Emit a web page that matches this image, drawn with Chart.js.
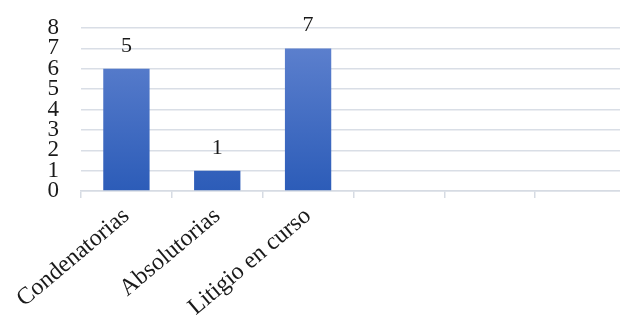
<!DOCTYPE html>
<html><head><meta charset="utf-8">
<script src="https://cdn.jsdelivr.net/npm/chart.js@4/dist/chart.umd.min.js"></script>
<style>html,body{margin:0;padding:0;background:#fff;overflow:hidden;width:620px;height:316px}#wrap{width:626px;height:316px;position:relative}</style>
</head><body><div id="wrap"><canvas id="c" width="626" height="316"></canvas></div>
<script>
const categories = ["Condenatorias", "Absolutorias", "Litigio en curso", "", "", ""];
const values = [6, 1, 7, null, null, null];
const valueLabels = ["5", "1", "7", "", "", ""];
const yTicks = [0, 1, 2, 3, 4, 5, 6, 7, 8];

const serif = "'Liberation Serif', 'Times New Roman', serif";

const labelPlugin = {
  id: 'valueLabels',
  afterDatasetsDraw(chart) {
    const ctx = chart.ctx;
    const meta = chart.getDatasetMeta(0);
    ctx.save();
    ctx.font = "22px " + serif;
    ctx.fillStyle = "#1a1a1a";
    ctx.textAlign = "center";
    ctx.textBaseline = "alphabetic";
    meta.data.forEach((bar, i) => {
      if (values[i] == null) return;
      ctx.fillText(valueLabels[i], bar.x, bar.y - 17);
    });
    ctx.restore();
  }
};

new Chart(document.getElementById('c'), {
  type: 'bar',
  data: {
    labels: categories,
    datasets: [{
      data: values,
      backgroundColor(context) {
        const area = context.chart.chartArea;
        if (!area) return '#3f6bc6';
        const g = context.chart.ctx.createLinearGradient(0, area.top, 0, area.bottom);
        g.addColorStop(0, '#6284d0');
        g.addColorStop(1, '#2c5cb8');
        return g;
      },
      borderWidth: 0,
      categoryPercentage: 1,
      barPercentage: 0.51
    }]
  },
  options: {
    responsive: false,
    animation: false,
    devicePixelRatio: 1,
    layout: { padding: { top: 28, right: 0, left: 0, bottom: 0 } },
    plugins: { legend: { display: false }, tooltip: { enabled: false } },
    scales: {
      x: {
        offset: true,
        grid: { offset: true, drawOnChartArea: false, drawTicks: true, tickLength: 7, color: '#d6dbe3', lineWidth: 1.5 },
        border: { display: true, color: '#d6dbe3', width: 1.5 },
        ticks: { font: { family: serif, size: 24 }, color: '#1a1a1a', minRotation: 40, maxRotation: 40, padding: 4, autoSkip: false },
        afterFit(scale) { scale.height = 125; scale.paddingLeft = 0; scale.paddingRight = 0; }
      },
      y: {
        min: 0, max: 8,
        afterBuildTicks(scale) { scale.ticks = yTicks.map(v => ({ value: v })); },
        grid: { color: '#d9dee6', lineWidth: 1.5, drawTicks: false },
        border: { display: false },
        ticks: { font: { family: serif, size: 23 }, color: '#1a1a1a', padding: 22, autoSkip: false },
        afterFit(scale) { scale.width = 81; scale.paddingTop = 0; scale.paddingBottom = 0; }
      }
    }
  },
  plugins: [labelPlugin]
});
</script>
</body></html>
